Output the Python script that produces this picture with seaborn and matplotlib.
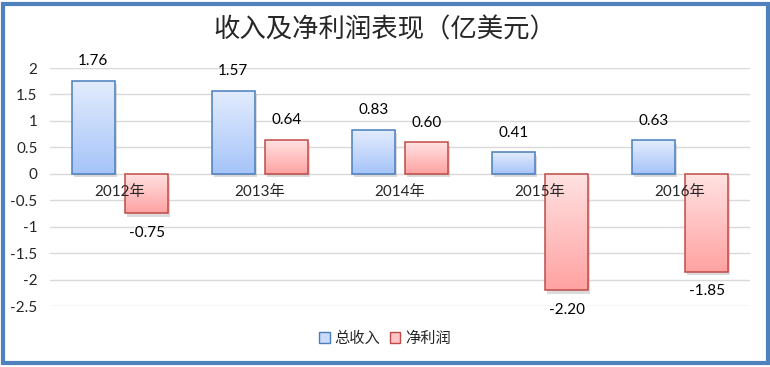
import numpy as np
import pandas as pd
import matplotlib
matplotlib.use("Agg")
import matplotlib.pyplot as plt
import matplotlib.patheffects as pe
from matplotlib.colors import LinearSegmentedColormap
from matplotlib.patches import Patch, Rectangle
import seaborn as sns

# data
years = ["2012年", "2013年", "2014年", "2015年", "2016年"]
revenue = [1.76, 1.57, 0.83, 0.41, 0.63]
net_profit = [-0.75, 0.64, 0.60, -2.20, -1.85]
series = ["总收入", "净利润"]
y_ticks = [2, 1.5, 1, 0.5, 0, -0.5, -1, -1.5, -2, -2.5]

df = pd.DataFrame({
    "year": years * 2,
    "value": revenue + net_profit,
    "series": [series[0]] * len(years) + [series[1]] * len(years),
})

sns.set_style("white")
plt.rcParams["font.family"] = ["Lato", "Noto Sans CJK SC", "DejaVu Sans"]

# gradient colours (light at top, darker at bottom) and edge colours
grad = {
    series[0]: ("#E3ECFD", "#A6C4F9", "#4A7EBB"),
    series[1]: ("#FFE2E2", "#FFA2A2", "#BE4B48"),
}

fig = plt.figure(figsize=(7.7, 3.67), dpi=100)
ax = fig.add_axes([50 / 770, 1 - 306 / 367, 700 / 770, (306 - 68) / 367])

sns.barplot(data=df, x="year", y="value", hue="series", order=years,
            hue_order=series, width=0.76, gap=0.19, ax=ax, legend=False,
            palette=["white", "white"], edgecolor="none", linewidth=0)

# shade each bar with a vertical gradient, add shadow and edge
bars = ax.patches[:2 * len(years)]
for i, bar in enumerate(bars):
    s = series[i // len(years)]
    top_c, bot_c, edge_c = grad[s]
    x0 = bar.get_x()
    w = bar.get_width()
    h = bar.get_height()
    y_lo, y_hi = min(0, h), max(0, h)
    bar.set_path_effects([pe.SimplePatchShadow(offset=(1.2, -2.5), shadow_rgbFace="#999999", alpha=0.35),
                          pe.Normal()])
    cmap = LinearSegmentedColormap.from_list("g", [top_c, bot_c])
    g = np.linspace(0, 1, 256).reshape(-1, 1)
    im = ax.imshow(g, cmap=cmap, aspect="auto", origin="upper",
                   extent=(x0, x0 + w, y_lo, y_hi), zorder=bar.get_zorder() + 0.1)
    im.set_clip_path(bar)
    ax.add_patch(Rectangle((x0, y_lo), w, y_hi - y_lo, fill=False, edgecolor=edge_c,
                           linewidth=1.1, zorder=bar.get_zorder() + 0.2))
    # value label
    off = 14 if h >= 0 else -14
    ax.annotate(f"{h:.2f}", (x0 + w / 2, h), xytext=(0, off), textcoords="offset points",
                ha="center", va="center", fontsize=11, color="black",
                annotation_clip=False, zorder=5)

ax.set_xlim(-0.5, len(years) - 0.5)
ax.set_ylim(-2.5, 2)

# category labels sit just under the zero line
ax.set_xticks([])
ax.set_xlabel("")
for i, yr in enumerate(years):
    ax.annotate(yr, (i, 0), xytext=(0, -13), textcoords="offset points",
                ha="center", va="center", fontsize=11, zorder=6)

ax.set_yticks(y_ticks)
ax.set_yticklabels([f"{t:g}" for t in y_ticks], fontsize=11)
ax.tick_params(axis="y", length=0, pad=9)
ax.set_ylabel("")
ax.grid(axis="y", color="#D9D9D9", linewidth=1)
ax.set_axisbelow(True)
sns.despine(ax=ax, left=True, bottom=True)

fig.text(0.5, 1 - 30 / 367, "收入及净利润表现（亿美元）", ha="center", va="center",
         fontsize=19, fontweight="light", family=["Noto Sans CJK SC", "DejaVu Sans"])

handles = [Patch(facecolor="#C9DAFB", edgecolor="#4A7EBB", label=series[0]),
           Patch(facecolor="#FFC5C5", edgecolor="#BE4B48", label=series[1])]
fig.legend(handles=handles, loc="center", bbox_to_anchor=(0.5, 1 - 338 / 367), ncol=2,
           frameon=False, handlelength=0.7, handleheight=0.7, handletextpad=0.3,
           columnspacing=0.6, prop={"family": ["Noto Sans CJK SC"], "size": 11})

# outer chart frame
fig.patches.append(Rectangle((2.5 / 770, 1 - 362.5 / 367), 765 / 770, 358.5 / 367,
                             transform=fig.transFigure, fill=False, edgecolor="#4F81BD",
                             linewidth=3, zorder=10))

fig.savefig("out.png", dpi=100)
